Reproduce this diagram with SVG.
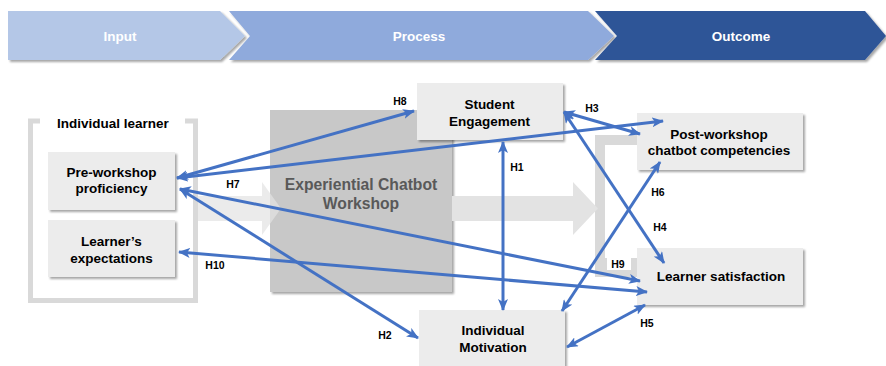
<svg xmlns="http://www.w3.org/2000/svg" width="886" height="366" viewBox="0 0 886 366">
  <defs>
    <style>
      text { font-family: "Liberation Sans", Arial, sans-serif; font-weight: bold; }
      .banner { font-size: 13.5px; fill: #ffffff; text-anchor: middle; }
      .node { fill: #ececec; filter: url(#shadow); }
      .lbl { font-size: 13.5px; fill: #000000; text-anchor: middle; }
      .hyp { font-size: 10.5px; fill: #000000; text-anchor: middle; }
      .frame { fill: none; stroke: #d9d9d9; stroke-width: 5; }
      .flow { fill: #e3e3e3; }
      .link { stroke: #4472c4; stroke-width: 3; fill: none; marker-start: url(#head); marker-end: url(#head); }
    </style>
    <filter id="shadow" x="-10%" y="-10%" width="125%" height="130%">
      <feDropShadow dx="2" dy="2" stdDeviation="1.2" flood-color="#000000" flood-opacity="0.35"/>
    </filter>
    <marker id="head" viewBox="0 0 12 10" refX="11" refY="5" markerWidth="12" markerHeight="10" markerUnits="userSpaceOnUse" orient="auto-start-reverse">
      <path d="M0,0 L12,5 L0,10 L3,5 z" fill="#4472c4"/>
    </marker>
  </defs>

  <!-- Phase banner -->
  <g id="banner">
    <polygon points="8,11 220,11 245,36 220,60 8,60" fill="#b4c7e7" filter="url(#shadow)"/>
    <polygon points="229,11 588,11 614,36 588,60 229,60 250,36" fill="#8faadc" filter="url(#shadow)"/>
    <polygon points="595,11 865,11 886,36 865,60 595,60 617,36" fill="#2f5597" filter="url(#shadow)"/>
    <text class="banner" x="120" y="41">Input</text>
    <text class="banner" x="419" y="41">Process</text>
    <text class="banner" x="741" y="41">Outcome</text>
  </g>

  <!-- Input frame -->
  <g id="individual-learner">
    <path class="frame" d="M40,121 H30.5 V300.5 H195.5 V121 H185"/>
    <text class="lbl" x="113" y="128">Individual learner</text>
  </g>

  <!-- Outcome frame -->
  <g id="outcome-frame">
    <path d="M595,135 H640 V145 H605 V258 H640 V277 H595 Z" fill="#d9d9d9"/>
  </g>

  <!-- Workshop block -->
  <g id="workshop">
    <rect x="270" y="110" width="182" height="182" fill="#c8c8c8" filter="url(#shadow)"/>
    <text x="361" y="190" font-size="15.7" fill="#595959" text-anchor="middle">Experiential Chatbot</text>
    <text x="361" y="209" font-size="15.7" fill="#595959" text-anchor="middle">Workshop</text>
  </g>

  <!-- Flow arrows -->
  <g id="flow">
    <polygon class="flow" points="198,196 262,196 262,182 281,208.5 262,235 262,221 198,221" opacity="0.7"/>
    <polygon class="flow" points="452,196 573,196 573,182 598,208.5 573,235 573,221 452,221"/>
  </g>

  <!-- Nodes -->
  <g id="pre-workshop">
    <rect class="node" x="48" y="152" width="127" height="58"/>
    <text class="lbl" x="111.5" y="177">Pre-workshop</text>
    <text class="lbl" x="111.5" y="193">proficiency</text>
  </g>
  <g id="expectations">
    <rect class="node" x="48" y="220" width="127" height="57"/>
    <text class="lbl" x="111.5" y="246">Learner’s</text>
    <text class="lbl" x="111.5" y="263">expectations</text>
  </g>
  <g id="engagement">
    <rect class="node" x="417" y="83" width="146" height="57"/>
    <text class="lbl" x="489.5" y="109">Student</text>
    <text class="lbl" x="489.5" y="126">Engagement</text>
  </g>
  <g id="motivation">
    <rect class="node" x="419" y="310" width="146" height="60"/>
    <text class="lbl" x="493" y="335">Individual</text>
    <text class="lbl" x="493" y="352">Motivation</text>
  </g>
  <g id="competencies">
    <rect class="node" x="637" y="113" width="166" height="57"/>
    <text class="lbl" x="719" y="139">Post-workshop</text>
    <text class="lbl" x="719" y="155">chatbot competencies</text>
  </g>
  <g id="satisfaction">
    <rect class="node" x="637" y="248" width="166" height="57"/>
    <text class="lbl" x="721" y="281">Learner satisfaction</text>
  </g>

  <!-- Hypothesis connectors -->
  <g id="connectors">
    <line class="link" x1="177" y1="178" x2="414" y2="111"/>
    <line class="link" x1="177" y1="178" x2="663" y2="121"/>
    <line class="link" x1="180" y1="189" x2="640" y2="281"/>
    <line class="link" x1="180" y1="189" x2="418" y2="338"/>
    <line class="link" x1="179" y1="252" x2="647" y2="292"/>
    <line class="link" x1="564" y1="112" x2="640" y2="134"/>
    <line class="link" x1="564" y1="112" x2="664" y2="263"/>
    <line class="link" x1="562" y1="311" x2="660" y2="162"/>
    <line class="link" x1="503" y1="142" x2="503" y2="310"/>
    <line class="link" x1="567" y1="347" x2="645" y2="305"/>
  </g>

  <!-- Hypothesis labels -->
  <g id="labels">
    <rect x="607" y="257" width="24" height="13" fill="#ffffff"/>
    <text class="hyp" x="400" y="105">H8</text>
    <text class="hyp" x="592" y="112">H3</text>
    <text class="hyp" x="233" y="188">H7</text>
    <text class="hyp" x="517" y="171">H1</text>
    <text class="hyp" x="658" y="196">H6</text>
    <text class="hyp" x="660" y="231">H4</text>
    <text class="hyp" x="618" y="268">H9</text>
    <text class="hyp" x="215" y="269">H10</text>
    <text class="hyp" x="385" y="339">H2</text>
    <text class="hyp" x="647" y="327">H5</text>
  </g>
</svg>
